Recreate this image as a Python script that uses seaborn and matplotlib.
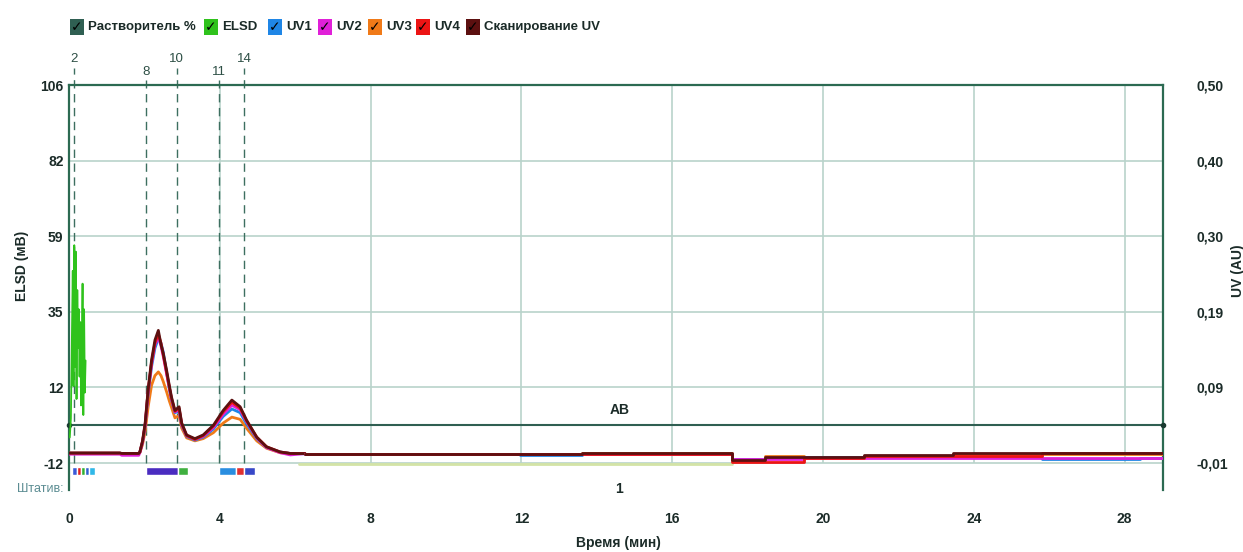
import numpy as np
import pandas as pd
import matplotlib
matplotlib.use("Agg")
import matplotlib.pyplot as plt
import seaborn as sns
from matplotlib.patches import Rectangle

# ---------------- data ----------------
series_names = ["Растворитель %", "ELSD", "UV1", "UV2", "UV3", "UV4", "Сканирование UV"]
series_colors = ["#2f5f52", "#2fc21c", "#1f86e6", "#e020d8", "#f07a18", "#ec1414", "#5c1010"]

# UV traces, peak region (AU)
t_peak = [0.0, 1.35, 1.40, 1.85, 1.88, 1.95, 2.02, 2.10, 2.19, 2.28, 2.37, 2.44, 2.50, 2.59,
          2.66, 2.72, 2.81, 2.92, 2.99, 3.12, 3.34, 3.56, 3.83, 4.09, 4.32, 4.54, 4.71, 4.98,
          5.24, 5.60, 5.87, 6.26]
uv1_peak = [0.0035, 0.0035, 0.003, 0.003, 0.005, 0.018, 0.040, 0.083, 0.120, 0.145, 0.158, 0.152,
            0.140, 0.112, 0.090, 0.075, 0.058, 0.060, 0.041, 0.026, 0.021, 0.025, 0.036, 0.053,
            0.063, 0.058, 0.043, 0.023, 0.011, 0.005, 0.003, 0.0025]
uv2_peak = [0.0020, 0.0020, 0.0005, 0.0005, 0.004, 0.018, 0.041, 0.086, 0.124, 0.150, 0.160, 0.148,
            0.134, 0.110, 0.092, 0.076, 0.059, 0.062, 0.042, 0.027, 0.022, 0.026, 0.038, 0.056,
            0.068, 0.062, 0.046, 0.024, 0.011, 0.004, 0.001, 0.0028]
uv3_peak = [0.0035, 0.0035, 0.003, 0.003, 0.004, 0.015, 0.033, 0.066, 0.095, 0.108, 0.113, 0.108,
            0.100, 0.086, 0.074, 0.065, 0.051, 0.054, 0.037, 0.024, 0.020, 0.023, 0.031, 0.044,
            0.052, 0.049, 0.037, 0.020, 0.010, 0.004, 0.003, 0.0028]
uv4_peak = [0.0035, 0.0035, 0.003, 0.003, 0.005, 0.019, 0.042, 0.088, 0.126, 0.152, 0.164, 0.152,
            0.136, 0.112, 0.093, 0.077, 0.060, 0.064, 0.043, 0.027, 0.022, 0.027, 0.040, 0.059,
            0.072, 0.064, 0.047, 0.025, 0.012, 0.005, 0.003, 0.0028]
scan_peak = [0.0035, 0.0035, 0.003, 0.003, 0.005, 0.020, 0.044, 0.090, 0.129, 0.156, 0.169, 0.150,
             0.138, 0.115, 0.095, 0.079, 0.061, 0.066, 0.044, 0.028, 0.023, 0.028, 0.041, 0.061,
             0.075, 0.066, 0.048, 0.025, 0.012, 0.005, 0.003, 0.0028]

# UV traces, baseline region (step values held from each time to the next, AU)
t_tail = [6.26, 11.96, 13.6, 17.6, 18.46, 19.5, 21.1, 23.45, 25.8, 28.4, 29.02]
uv1_tail = [0.0020, 0.0012, 0.0025, -0.005, -0.003, -0.002, -0.002, -0.002, -0.005, -0.003, -0.003]
uv2_tail = [0.0025, 0.0025, 0.0025, -0.004, -0.004, -0.003, -0.003, -0.003, -0.003, -0.003, -0.003]
uv3_tail = [0.0028, 0.0028, 0.0030, -0.005, -0.001, -0.002, -0.001, 0.002, 0.002, 0.002, 0.002]
uv4_tail = [0.0028, 0.0028, 0.0028, -0.008, -0.008, -0.0035, -0.001, -0.001, 0.0035, 0.0035, 0.0035]
scan_tail = [0.0028, 0.0028, 0.0030, -0.006, -0.002, -0.002, 0.0008, 0.004, 0.004, 0.004, 0.004]

# ELSD (mV)
elsd_t = [0.02, 0.05, 0.08, 0.10, 0.12, 0.14, 0.16, 0.18, 0.20, 0.22, 0.24, 0.26, 0.28, 0.30,
          0.32, 0.34, 0.36, 0.38, 0.40, 0.42, 0.44]
elsd_v = [-4, 2, 30, 48, 12, 56, 18, 54, 8, 42, 24, 36, 15, 32, 6, 22, 44, 3, 36, 10, 20]
elsd_base_t = [6.1, 17.6]
elsd_base_v = [-12.4, -12.4]

# solvent line
solvent_t = [0.0, 29.02]
solvent_v = [0.0, 0.0]

# fraction markers
frac_t = [0.13, 2.04, 2.86, 3.98, 4.64]
frac_lbl = ["2", "8", "10", "11", "14"]
frac_high = [True, False, True, False, True]

# fraction collection bars (start, end, colour)
bar_start = [0.08, 0.20, 0.31, 0.42, 0.53, 2.04, 2.90, 3.98, 4.43, 4.64]
bar_end = [0.20, 0.31, 0.42, 0.53, 0.69, 2.90, 3.16, 4.43, 4.64, 4.93]
bar_col = ["#3a5ad8", "#e02020", "#30b030", "#3060d0", "#30b8e8", "#4a2cc0", "#40b040",
           "#2a8ee0", "#e03030", "#3848c8"]

# axis ticks
x_ticks = [0, 4, 8, 12, 16, 20, 24, 28]
left_ticks = [-12, 11.6, 35.2, 58.8, 82.4, 106]
left_labels = ["-12", "12", "35", "59", "82", "106"]
right_ticks = [-0.01, 0.092, 0.194, 0.296, 0.398, 0.50]
right_labels = ["-0,01", "0,09", "0,19", "0,30", "0,40", "0,50"]

# ---------------- plot ----------------
sns.set_theme(style="white")
plt.rcParams["font.family"] = ["Liberation Sans", "DejaVu Sans"]

W, H = 1243, 552
fig = plt.figure(figsize=(W / 100, H / 100), dpi=100)
ax = fig.add_axes([69 / W, 1 - 490 / H, (1163 - 69) / W, (490 - 85) / H])
ax2 = ax.twinx()

dark = "#2c6a52"
grid_c = "#b9d3cb"
txt_c = "#1b2b28"
FS = 10

ax.set_xlim(0, 29.02)
ax.set_ylim(-20.4, 106)
ax2.set_ylim(-0.0463, 0.50)

# grid
ax.set_yticks(left_ticks)
ax.set_yticklabels(left_labels)
ax.grid(False)
for yv in left_ticks[:-1]:
    ax.axhline(yv, color=grid_c, lw=1.2, zorder=0)
ax.vlines(x_ticks[1:], -12, 106, color=grid_c, lw=1.2, zorder=0)
ax.set_xticks(x_ticks)
ax.set_xticklabels([str(v) for v in x_ticks])

ax2.set_yticks(right_ticks)
ax2.set_yticklabels(right_labels)
ax2.grid(False)

for s in ["top", "left", "right"]:
    ax.spines[s].set_visible(True)
    ax.spines[s].set_color(dark)
    ax.spines[s].set_linewidth(1.6)
ax.spines["bottom"].set_visible(False)
for s in ax2.spines.values():
    s.set_visible(False)

ax.tick_params(axis="y", length=0, pad=4, labelsize=FS, labelcolor=txt_c)
ax.tick_params(axis="x", length=0, pad=16, labelsize=FS, labelcolor=txt_c)
ax2.tick_params(axis="y", length=0, pad=24, labelsize=FS, labelcolor=txt_c)
for lab in ax.get_xticklabels() + ax.get_yticklabels() + ax2.get_yticklabels():
    lab.set_fontweight("bold")

# fraction dashed markers
for t, lbl, hi in zip(frac_t, frac_lbl, frac_high):
    top = 111.3 if hi else 107.6
    ax.vlines(t, -12, top, color="#3d6f60", lw=1.0, linestyles=(0, (6, 4)), clip_on=False, zorder=1)
    ax.text(t, 114.2 if hi else 110.2, lbl, ha="center", va="center", fontsize=9.5,
            color="#2d4f45", clip_on=False)

# solvent / AB line
sns.lineplot(x=solvent_t, y=solvent_v, ax=ax, color=series_colors[0], lw=1.5,
             estimator=None, sort=False, legend=False, zorder=2)
ax.plot([0, 29.02], [0, 0], ls="none", marker="o", ms=3, color="#1a3a30", clip_on=False, zorder=3)
ax.text(14.6, 4.6, "AB", ha="center", va="center", fontsize=FS, fontweight="bold", color=txt_c)

# ELSD
sns.lineplot(x=elsd_t, y=elsd_v, ax=ax, color=series_colors[1], lw=1.3,
             estimator=None, sort=False, legend=False, zorder=3)
sns.lineplot(x=elsd_base_t, y=elsd_base_v, ax=ax, color="#d3e3a6", lw=2.0,
             estimator=None, sort=False, legend=False, zorder=2)

# fraction bars
for a, b, c in zip(bar_start, bar_end, bar_col):
    ax.broken_barh([(a, b - a)], (-15.7, 2.5), facecolors=c, zorder=3)

ax.text(-0.15, -20.1, "Штатив:", ha="right", va="center", fontsize=9, color="#5b8c92",
        clip_on=False)
ax.text(14.6, -20.1, "1", ha="center", va="center", fontsize=FS, fontweight="bold", color=txt_c)

# UV traces
draw_order = ["UV3", "UV1", "UV2", "UV4", "Сканирование UV"]
peak_map = {"UV1": uv1_peak, "UV2": uv2_peak, "UV3": uv3_peak, "UV4": uv4_peak,
            "Сканирование UV": scan_peak}
tail_map = {"UV1": uv1_tail, "UV2": uv2_tail, "UV3": uv3_tail, "UV4": uv4_tail,
            "Сканирование UV": scan_tail}
pal = dict(zip(series_names, series_colors))
df_peak = pd.concat([pd.DataFrame({"t": t_peak, "uv": peak_map[n], "series": n}) for n in draw_order])
df_tail = pd.concat([pd.DataFrame({"t": t_tail, "uv": tail_map[n], "series": n}) for n in draw_order])
sns.lineplot(data=df_peak, x="t", y="uv", hue="series", hue_order=draw_order, palette=pal,
             estimator=None, sort=False, legend=False, ax=ax2, lw=2.0)
sns.lineplot(data=df_tail, x="t", y="uv", hue="series", hue_order=draw_order, palette=pal,
             estimator=None, sort=False, legend=False, ax=ax2, lw=2.0, drawstyle="steps-post")
ax.set_xlabel("")
ax.set_ylabel("")
ax2.set_xlabel("")
ax2.set_ylabel("")

# axis titles
fig.text(22 / W, 1 - 266 / H, "ELSD (мВ)", rotation=90, ha="center", va="center",
         fontsize=FS, fontweight="bold", color=txt_c)
fig.text(1238 / W, 1 - 271 / H, "UV (AU)", rotation=90, ha="center", va="center",
         fontsize=FS, fontweight="bold", color=txt_c)
fig.text(618 / W, 1 - 543 / H, "Время (мин)", ha="center", va="center",
         fontsize=FS, fontweight="bold", color=txt_c)

# legend (check-box style)
patch_x = [70, 204, 268, 318, 368, 416, 466]
for px, name, col in zip(patch_x, series_names, series_colors):
    fig.add_artist(Rectangle((px / W, 1 - 35 / H), 14 / W, 16 / H, transform=fig.transFigure,
                             facecolor=col, edgecolor="none"))
    fig.text((px + 7) / W, 1 - 27 / H, "✓", ha="center", va="center", fontsize=10,
             fontweight="bold", color="black", family=["DejaVu Sans"])
    fig.text((px + 18) / W, 1 - 27 / H, name, ha="left", va="center", fontsize=9.5,
             fontweight="bold", color=txt_c)

fig.savefig("out.png", dpi=100)
